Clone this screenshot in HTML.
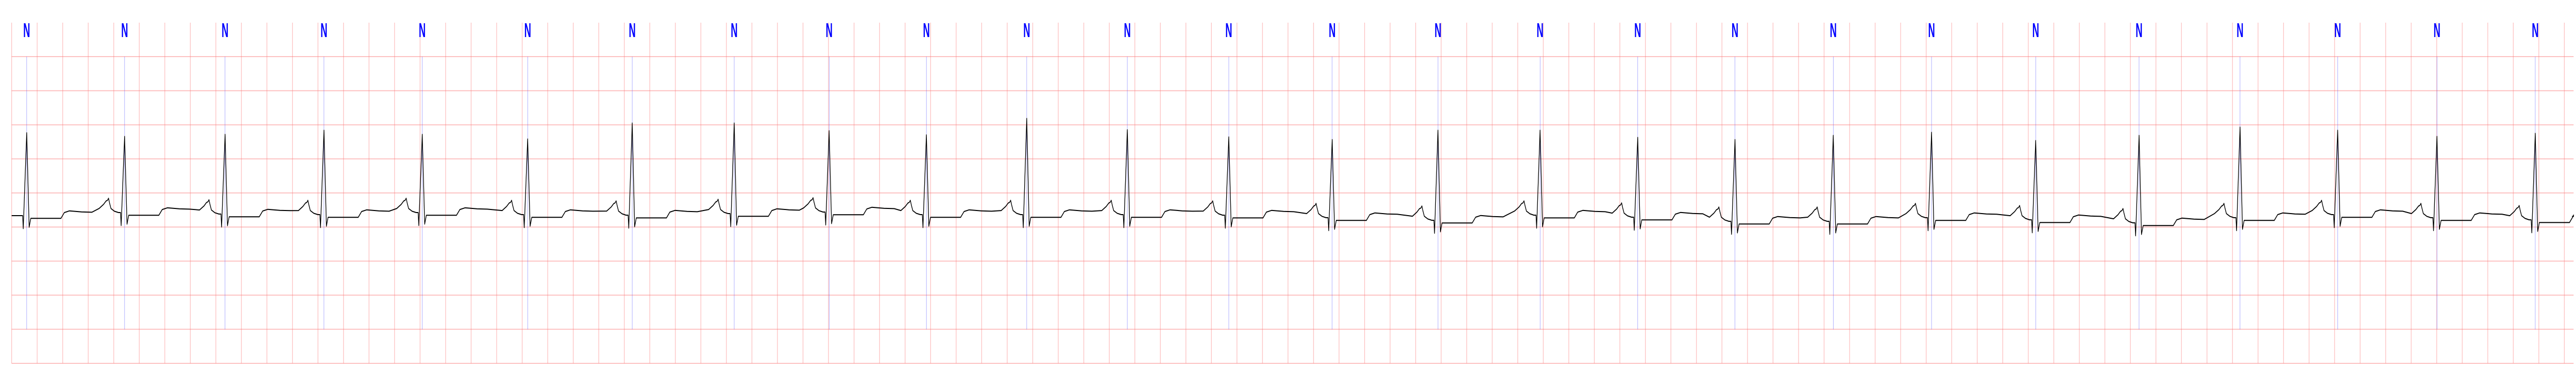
<!DOCTYPE html>
<html>
<head>
<meta charset="utf-8">
<style>
html,body{margin:0;padding:0;background:#fff;width:100%;height:100%;overflow:hidden;}
svg{display:block;width:100vw;height:100vh;}
</style>
</head>
<body>
<svg id="chart" viewBox="0 0 7522 750" preserveAspectRatio="none" xmlns="http://www.w3.org/2000/svg">
  <rect x="0" y="0" width="7522" height="750" fill="#ffffff"/>
  <g id="grid"></g>
  <g id="annotations"></g>
  <path id="trace" fill="none" stroke="#000" stroke-width="2" stroke-linejoin="round"/>
</svg>
<script>
// ---- data ----
// R-peak times (seconds)
const beatTimes = [0.118,0.885,1.672,2.447,3.217,4.043,4.862,5.661,6.405,7.167,7.953,8.741,9.536,10.346,11.175,11.975,12.740,13.502,14.272,15.042,15.858,16.668,17.459,18.224,19.002,19.772];
// beat labels
const beatLabels = ["N","N","N","N","N","N","N","N","N","N","N","N","N","N","N","N","N","N","N","N","N","N","N","N","N","N"];
// R-peak amplitude (mV)
const rPeaks = [1.383,1.330,1.360,1.420,1.360,1.292,1.526,1.526,1.413,1.352,1.594,1.428,1.322,1.284,1.420,1.420,1.315,1.284,1.345,1.390,1.269,1.345,1.466,1.420,1.330,1.375];
// isoelectric level before each beat (mV)
const baseLevels = [0.167,0.212,0.190,0.182,0.212,0.182,0.174,0.197,0.220,0.182,0.182,0.182,0.174,0.137,0.099,0.174,0.144,0.084,0.084,0.137,0.106,0.061,0.137,0.182,0.137,0.106];
// waveform shape after R (s offset, mV relative to own base)
const postT = [0.019,0.032,0.268,0.295,0.335,0.43,0.51];
const postV = [-0.17,-0.04,-0.04,0.045,0.07,0.055,0.05];
// waveform shape before next R (s offset, mV relative to next base)
const preT = [-0.20,-0.165,-0.145,-0.134,-0.126,-0.118,-0.107,-0.08,-0.048,-0.032,-0.027];
const preV = [0.06,0.12,0.17,0.18,0.21,0.14,0.06,0.02,0,0,-0.19];
// axis domains
const tMin = 0, tMax = 20, vMax = 2.5, vMin = -2.0;

// ---- scales ----
const X0 = 34, X1 = 7488, Y0 = 110, Y1 = 706;
function xs(t){ return X0 + (t - tMin) / (tMax - tMin) * (X1 - X0); }
function ys(v){ return Y0 + (vMax - v) / (vMax - vMin) * (Y1 - Y0); }

const NS = "http://www.w3.org/2000/svg";
const grid = document.getElementById("grid");
const ann = document.getElementById("annotations");

// horizontal grid lines every 0.5 mV
for (let v = vMax; v >= vMin - 1e-9; v -= 0.5) {
  const l = document.createElementNS(NS, "line");
  l.setAttribute("x1", X0); l.setAttribute("x2", 7515);
  l.setAttribute("y1", ys(v)); l.setAttribute("y2", ys(v));
  l.setAttribute("stroke", "rgba(250,120,120,0.45)"); l.setAttribute("stroke-width", "2");
  
  
  grid.appendChild(l);
}
// vertical grid lines every 0.2 s
for (let k = 0; k <= 100; k++) {
  const t = tMin + k * 0.2;
  const l = document.createElementNS(NS, "line");
  l.setAttribute("x1", xs(t)); l.setAttribute("x2", xs(t));
  l.setAttribute("y1", 44); l.setAttribute("y2", Y1);
  l.setAttribute("stroke", "rgba(250,120,120,0.45)"); l.setAttribute("stroke-width", "2");
  
  
  grid.appendChild(l);
}

// annotations
beatTimes.forEach((t, i) => {
  const x = xs(t);
  const l = document.createElementNS(NS, "line");
  l.setAttribute("x1", x); l.setAttribute("x2", x);
  l.setAttribute("y1", Y0); l.setAttribute("y2", 640);
  l.setAttribute("stroke", "rgba(60,60,255,0.6)"); l.setAttribute("stroke-width", "1");
  
  
  ann.appendChild(l);
  const tx = document.createElementNS(NS, "text");
  tx.setAttribute("x", x - 10); tx.setAttribute("y", 72);
  tx.setAttribute("textLength", "20"); tx.setAttribute("lengthAdjust", "spacingAndGlyphs");
  tx.setAttribute("font-family", "Liberation Sans, sans-serif");
  tx.setAttribute("font-weight", "bold"); tx.setAttribute("font-size", "39");
  tx.setAttribute("fill", "#0000ff");
  tx.textContent = beatLabels[i];
  
  
  ann.appendChild(tx);
});

// trace
const pts = [];
pts.push([tMin, baseLevels[0]]);
for (let i = 0; i < beatTimes.length; i++) {
  const t = beatTimes[i];
  for (let j = 0; j < preT.length; j++) {
    const tt = t + preT[j];
    if (i === 0 && j < 8) continue;
    pts.push([tt, baseLevels[i] + preV[j]]);
  }
  pts.push([t, rPeaks[i]]);
  const nextT = i + 1 < beatTimes.length ? beatTimes[i + 1] : 1e9;
  for (let j = 0; j < postT.length; j++) {
    const tt = t + postT[j];
    if (tt < nextT + preT[0]) pts.push([tt, baseLevels[i] + postV[j]]);
  }
}
pts.push([20.06, baseLevels[baseLevels.length - 1] + 0.05]);
let d = "";
pts.forEach((p, k) => {
  const x = Math.min(xs(p[0]), 7515);
  d += (k ? "L" : "M") + x.toFixed(1) + "," + ys(p[1]).toFixed(1);
});
document.getElementById("trace").setAttribute("d", d);
</script>
</body>
</html>
